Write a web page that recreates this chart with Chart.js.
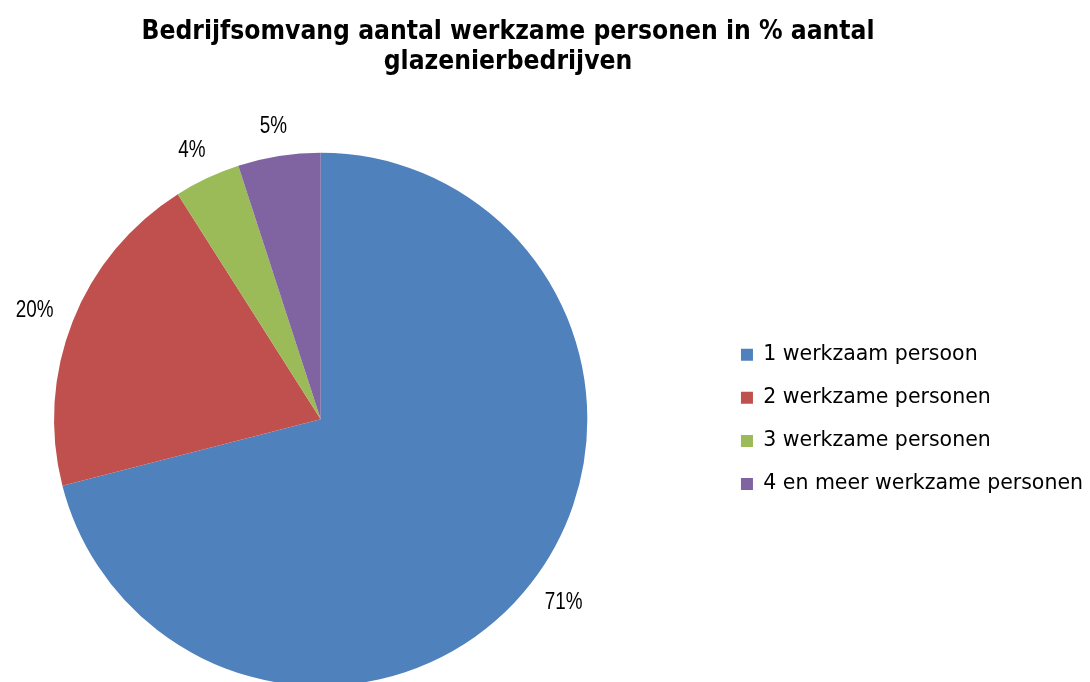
<!DOCTYPE html>
<html>
<head>
<meta charset="utf-8">
<script src="https://cdn.jsdelivr.net/npm/chart.js@4/dist/chart.umd.min.js"></script>
<style>
  html, body { margin: 0; padding: 0; background: #fff; overflow: hidden; width: 1090px; height: 682px; }
  /* canvas is a bit larger than the page so the pie sits where the original has it */
  #wrap { position: absolute; left: -77px; top: 0; width: 1170px; height: 700px; }
</style>
</head>
<body>
<div id="wrap"><canvas id="pieChart"></canvas></div>
<script>
const categories = ["1 werkzaam persoon", "2 werkzame personen", "3 werkzame personen", "4 en meer werkzame personen"];
const shares = [71, 20, 4, 5];
const sliceColors = ["#4F81BD", "#C0504D", "#9BBB59", "#8064A2"];

// percentage labels just outside each slice
const outsideLabels = {
    id: "outsideLabels",
    afterDatasetsDraw(chart) {
        const ctx = chart.ctx;
        const meta = chart.getDatasetMeta(0);
        const squeeze = 0.82;
        ctx.save();
        ctx.font = "23px 'Liberation Sans', Arial, sans-serif";
        ctx.fillStyle = "#000";
        ctx.textAlign = "center";
        ctx.textBaseline = "middle";
        meta.data.forEach((arc, i) => {
            const p = arc.getProps(["x", "y", "startAngle", "endAngle", "outerRadius"], true);
            const mid = (p.startAngle + p.endAngle) / 2;
            const text = shares[i] + "%";
            const w = ctx.measureText(text).width * squeeze;
            const r = p.outerRadius + 22;
            const x = p.x + Math.cos(mid) * r + Math.cos(mid) * w / 2;
            const y = p.y + Math.sin(mid) * r + Math.sin(mid) * 9;
            ctx.save();
            ctx.translate(x, y + 1);
            ctx.scale(squeeze, 1);
            ctx.fillText(text, 0, 0);
            ctx.restore();
        });
        ctx.restore();
    }
};

const ctx = document.getElementById("pieChart").getContext("2d");
const pieChart = new Chart(ctx, {
    type: "pie",
    data: {
        labels: categories,
        datasets: [
            {
                data: shares,
                backgroundColor: sliceColors,
                borderWidth: 0,
            },
        ],
    },
    options: {
        responsive: true,
        maintainAspectRatio: false,
        animation: false,
        layout: {
            padding: { left: 0, right: 0, top: 0, bottom: 14 },
        },
        plugins: {
            title: {
                display: true,
                text: ["Bedrijfsomvang aantal werkzame personen in % aantal", "glazenierbedrijven"],
                color: "#000",
                font: { family: "'DejaVu Sans Condensed', 'DejaVu Sans', sans-serif", size: 26.2, weight: "bold", lineHeight: 1.12 },
                padding: { top: 18, bottom: 76 },
            },
            legend: {
                position: "right",
                fullSize: false,
                labels: {
                    boxWidth: 12,
                    boxHeight: 12,
                    padding: 22.6,
                    color: "#000",
                    font: { family: "'DejaVu Sans', sans-serif", size: 20.5 },
                },
            },
            tooltip: { enabled: false },
        },
    },
    plugins: [outsideLabels],
});
</script>
</body>
</html>
